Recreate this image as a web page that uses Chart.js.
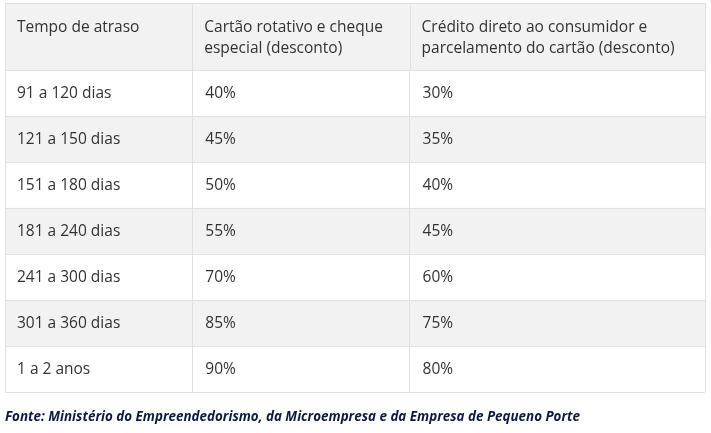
<!DOCTYPE html>
<html>
<head>
<meta charset="utf-8">
<script src="https://cdn.jsdelivr.net/npm/chart.js@4"></script>
<style>
  html, body { margin: 0; padding: 0; background: #fff; }
  canvas { display: block; }
</style>
</head>
<body>
<canvas id="tabela" width="711" height="433"></canvas>
<script>
// dados da tabela
const headerLines = [
  ['Tempo de atraso'],
  ['Cartão rotativo e cheque', 'especial (desconto)'],
  ['Crédito direto ao consumidor e', 'parcelamento do cartão (desconto)']
];
const atraso = ['91 a 120 dias', '121 a 150 dias', '151 a 180 dias', '181 a 240 dias', '241 a 300 dias', '301 a 360 dias', '1 a 2 anos'];
const rotativo = [40, 45, 50, 55, 70, 85, 90];
const cdc = [30, 35, 40, 45, 60, 75, 80];
const fonte = 'Fonte: Ministério do Empreendedorismo, da Microempresa e da Empresa de Pequeno Porte';

// layout (largura das colunas em unidades do eixo x)
const colEdges = [0, 187, 404, 699];
const TABLE_W = colEdges[colEdges.length - 1];
const LINE = '#dfe0e5';
const GRAY = '#f2f2f2';
const TXT = '#333333';
const FONT = '"Open Sans", sans-serif';

const tablePlugin = {
  id: 'tablePlugin',
  afterDraw(chart) {
    const ctx = chart.ctx;
    const xs = chart.scales.x;
    const ys = chart.scales.y;
    const top = 3;
    const bottom = chart.chartArea.top;
    const x0 = Math.round(xs.getPixelForValue(0));
    const x1 = Math.round(xs.getPixelForValue(TABLE_W));

    ctx.save();
    // cabeçalho
    ctx.fillStyle = GRAY;
    ctx.fillRect(x0, top, x1 - x0, bottom - top);
    ctx.strokeStyle = LINE;
    ctx.lineWidth = 1;
    ctx.beginPath();
    ctx.moveTo(x0, top + 0.5);
    ctx.lineTo(x1, top + 0.5);
    colEdges.forEach(v => {
      const px = Math.round(xs.getPixelForValue(v)) + 0.5;
      ctx.moveTo(px, top);
      ctx.lineTo(px, bottom);
    });
    ctx.stroke();

    ctx.fillStyle = TXT;
    ctx.font = '15.5px ' + FONT;
    ctx.textAlign = 'left';
    ctx.textBaseline = 'alphabetic';
    headerLines.forEach((lines, c) => {
      const px = xs.getPixelForValue(colEdges[c]) + 12;
      lines.forEach((ln, k) => ctx.fillText(ln, px, 32 + k * 21));
    });

    // células
    ctx.textBaseline = 'middle';
    atraso.forEach((label, r) => {
      const py = ys.getPixelForValue(r) + 1;
      ctx.fillText(label, xs.getPixelForValue(colEdges[0]) + 12, py);
      ctx.fillText(rotativo[r] + '%', xs.getPixelForValue(colEdges[1]) + 13, py);
      ctx.fillText(cdc[r] + '%', xs.getPixelForValue(colEdges[2]) + 13, py);
    });

    // fonte
    ctx.fillStyle = '#0b1a3f';
    ctx.font = 'italic bold 13.4px ' + FONT;
    ctx.textBaseline = 'middle';
    ctx.fillText(fonte, x0, chart.chartArea.bottom + 25);
    ctx.restore();
  }
};

new Chart(document.getElementById('tabela'), {
  type: 'bar',
  data: {
    labels: atraso,
    datasets: [{
      data: atraso.map(() => [0, TABLE_W]),
      backgroundColor: atraso.map((_, i) => i % 2 ? GRAY : '#ffffff'),
      borderWidth: 0,
      barPercentage: 1,
      categoryPercentage: 1
    }]
  },
  options: {
    indexAxis: 'y',
    responsive: false,
    animation: false,
    devicePixelRatio: 1,
    layout: { padding: { top: 70, bottom: 41, left: 5, right: 6 } },
    plugins: { legend: { display: false }, tooltip: { enabled: false } },
    scales: {
      x: {
        type: 'linear',
        min: 0,
        max: TABLE_W,
        afterBuildTicks: s => { s.ticks = colEdges.map(v => ({ value: v })); },
        ticks: { display: false },
        grid: { color: LINE, drawTicks: false, z: 1 },
        border: { display: false }
      },
      y: {
        ticks: { display: false },
        grid: { color: LINE, drawTicks: false, offset: true, z: 1 },
        border: { display: false }
      }
    }
  },
  plugins: [tablePlugin]
});
</script>
</body>
</html>
